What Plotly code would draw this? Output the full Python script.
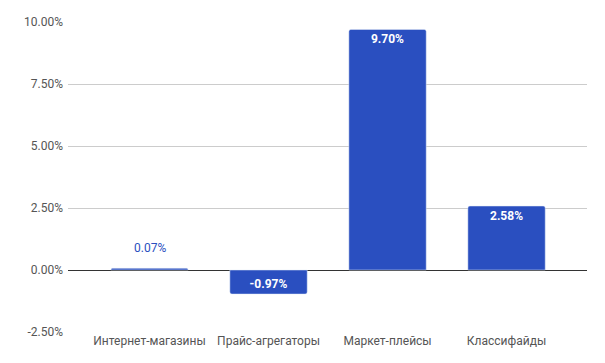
import plotly.graph_objects as go

categories = ["Интернет-магазины", "Прайс-агрегаторы", "Маркет-плейсы", "Классифайды"]
values = [0.07, -0.97, 9.70, 2.58]
labels = ["0.07%", "-0.97%", "9.70%", "2.58%"]
tick_vals = [-2.5, 0, 2.5, 5, 7.5, 10]
tick_text = ["-2.50%", "0.00%", "2.50%", "5.00%", "7.50%", "10.00%"]

bar_color = "#2a4fc0"
outside = [abs(v) < 0.5 for v in values]

fig = go.Figure(go.Bar(
    x=categories, y=values,
    text=["" if o else "<b>%s</b>" % t for t, o in zip(labels, outside)],
    textposition="inside",
    insidetextanchor="end",
    textfont=dict(family="Roboto", size=12, color="white"),
    marker=dict(color=bar_color, cornerradius=2),
    width=0.65, cliponaxis=False, hoverinfo="skip",
))
for c, v, t, o in zip(categories, values, labels, outside):
    if o:
        fig.add_annotation(x=c, y=v, text=t, showarrow=False, yanchor="bottom", yshift=11,
                           font=dict(family="Roboto", size=12, color=bar_color))

fig.update_layout(
    width=605, height=363,
    margin=dict(l=68, r=18, t=22, b=31),
    plot_bgcolor="white", paper_bgcolor="white",
    font=dict(family="Roboto", size=12, color="#555"),
    showlegend=False,
)
fig.update_xaxes(range=[-0.685, 3.676], showgrid=False, ticks="", automargin=False,
                 tickfont=dict(size=12, color="#555"))
fig.update_yaxes(range=[-2.5, 10], tickvals=tick_vals, ticktext=tick_text, automargin=False,
                 gridcolor="#cccccc", zeroline=True, zerolinecolor="#333", zerolinewidth=1,
                 tickfont=dict(size=12, color="#555"), ticklabelstandoff=4)
fig.write_html("out.html", config={"displayModeBar": False},
               post_script="document.body.style.margin='0';")
